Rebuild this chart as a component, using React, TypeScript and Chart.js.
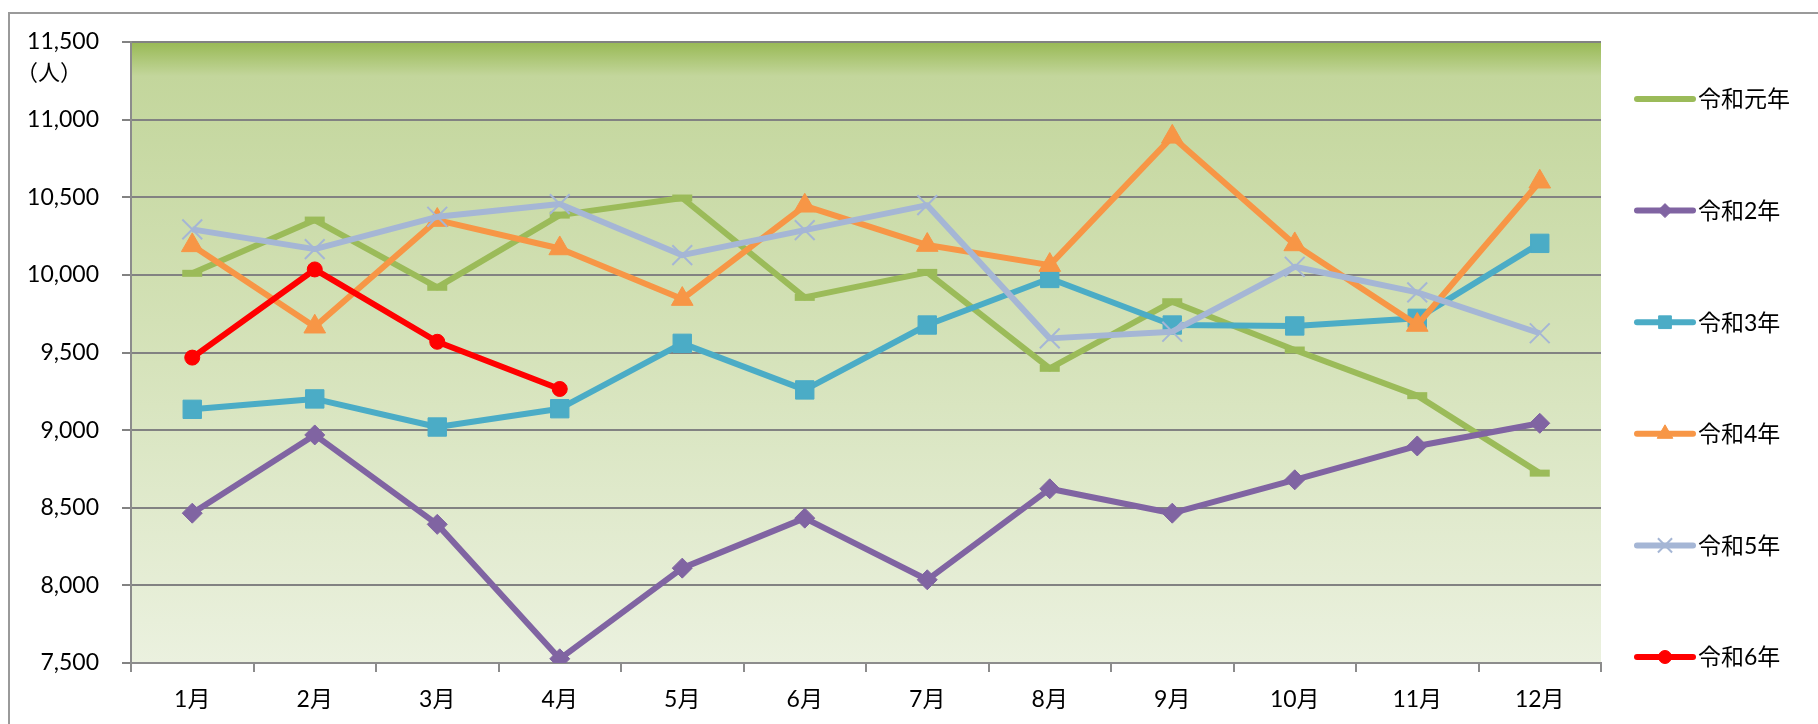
import React, { useEffect, useRef } from 'react';
import { Chart, registerables } from 'chart.js';
import { drawPoint } from 'chart.js/helpers';

Chart.register(...registerables);

const months = ['1月', '2月', '3月', '4月', '5月', '6月', '7月', '8月', '9月', '10月', '11月', '12月'];
const seriesNames = ['令和元年', '令和2年', '令和3年', '令和4年', '令和5年', '令和6年'];
const reiwa1 = [10010, 10353, 9920, 10385, 10495, 9855, 10016, 9398, 9827, 9516, 9222, 8723];
const reiwa2 = [8465, 8969, 8393, 7527, 8111, 8433, 8036, 8622, 8465, 8680, 8898, 9044];
const reiwa3 = [9134, 9201, 9020, 9138, 9559, 9259, 9677, 9977, 9677, 9671, 9720, 10203];
const reiwa4 = [10190, 9666, 10353, 10170, 9844, 10445, 10192, 10063, 10889, 10196, 9677, 10600];
const reiwa5 = [10293, 10166, 10374, 10456, 10127, 10288, 10449, 9591, 9634, 10052, 9887, 9624];
const reiwa6 = [9467, 10035, 9569, 9265];
const yMin = 7500;
const yMax = 11500;
const yStep = 500;
const unitLabel = '（人）';

const FONT = "Lato, 'Noto Sans CJK JP', sans-serif";

const styles = [
  { color: '#9BBB59', pointStyle: 'line', radius: 10, borderWidth: 7, lRadius: 0, lBorder: 0 },
  { color: '#8064A2', pointStyle: 'rectRot', radius: 10, borderWidth: 1, lRadius: 7, lBorder: 1 },
  { color: '#4BACC6', pointStyle: 'rect', radius: 13, borderWidth: 1, lRadius: 9, lBorder: 1 },
  { color: '#F79646', pointStyle: 'triangle', radius: 12.5, borderWidth: 1, lRadius: 9, lBorder: 1 },
  { color: '#A5B6D5', pointStyle: 'crossRot', radius: 14, borderWidth: 2, lRadius: 10, lBorder: 2 },
  { color: '#FF0000', pointStyle: 'circle', radius: 7.5, borderWidth: 1, lRadius: 6.5, lBorder: 1 },
];

const bgPlugin = {
  id: 'plotBg',
  beforeDraw(chart: any) {
    const { ctx, chartArea } = chart;
    if (!chartArea) return;
    const g = ctx.createLinearGradient(0, chartArea.top, 0, chartArea.bottom);
    g.addColorStop(0, '#98B954');
    g.addColorStop(0.055, '#C3D69C');
    g.addColorStop(0.45, '#D3E1B6');
    g.addColorStop(1, '#EBF1DF');
    ctx.save();
    ctx.fillStyle = g;
    ctx.fillRect(chartArea.left, chartArea.top, chartArea.right - chartArea.left, chartArea.bottom - chartArea.top);
    ctx.restore();
  },
};

const legendPlugin = {
  id: 'sideLegend',
  afterDraw(chart: any) {
    const { ctx, chartArea } = chart;
    const x0 = chartArea.right + 36;
    const x1 = x0 + 56;
    const top = 99;
    const gap = 111.6;
    ctx.save();
    chart.data.datasets.forEach((ds: any, i: number) => {
      const st = styles[i];
      const y = top + i * gap;
      ctx.strokeStyle = st.color;
      ctx.lineWidth = 6;
      ctx.lineCap = 'round';
      ctx.beginPath();
      ctx.moveTo(x0, y);
      ctx.lineTo(x1, y);
      ctx.stroke();
      if (st.lRadius > 0) {
        ctx.fillStyle = st.color;
        ctx.strokeStyle = st.color;
        ctx.lineWidth = st.lBorder;
        ctx.lineCap = 'butt';
        drawPoint(ctx, { pointStyle: st.pointStyle as any, radius: st.lRadius, borderWidth: st.lBorder, rotation: 0 } as any, (x0 + x1) / 2, y);
      }
      ctx.fillStyle = '#000';
      ctx.font = `23px ${FONT}`;
      ctx.textAlign = 'left';
      ctx.textBaseline = 'middle';
      ctx.fillText(ds.label, x1 + 5, y + 1);
    });
    ctx.font = `22px ${FONT}`;
    ctx.textAlign = 'center';
    ctx.textBaseline = 'middle';
    ctx.fillStyle = '#000';
    ctx.fillText(unitLabel, 49, chartArea.top + 31);
    ctx.restore();
  },
};

export default function App() {
  const ref = useRef<HTMLCanvasElement | null>(null);
  useEffect(() => {
    if (!ref.current) return;
    const allSeries = [reiwa1, reiwa2, reiwa3, reiwa4, reiwa5, reiwa6];
    const datasets = allSeries.map((d, i) => {
      const st = styles[i];
      return {
        label: seriesNames[i],
        data: d,
        borderColor: st.color,
        backgroundColor: st.color,
        borderWidth: 6,
        borderJoinStyle: 'round' as const,
        tension: 0,
        pointStyle: st.pointStyle as any,
        pointRadius: st.radius,
        pointHoverRadius: st.radius,
        pointBorderWidth: st.borderWidth,
        pointBackgroundColor: st.color,
        pointBorderColor: st.color,
        order: 5 - i,
        fill: false,
      };
    });
    const chart = new Chart(ref.current, {
      type: 'line',
      data: { labels: months, datasets },
      plugins: [bgPlugin, legendPlugin],
      options: {
        responsive: false,
        animation: false,
        devicePixelRatio: 1,
        layout: { padding: { left: 0, top: 42, right: 217, bottom: 0 } },
        font: { family: FONT },
        plugins: { legend: { display: false }, tooltip: { enabled: false } },
        scales: {
          x: {
            offset: true,
            grid: { offset: true, drawOnChartArea: false, drawTicks: true, tickLength: 9, color: '#8C8C8C', lineWidth: 2 },
            border: { display: true, color: '#8C8C8C', width: 2 },
            ticks: { color: '#000', font: { size: 23, family: FONT }, padding: 14, maxRotation: 0 },
            afterFit: (s: any) => { s.height = 61; },
          },
          y: {
            min: yMin,
            max: yMax,
            grid: { color: '#828282', lineWidth: 2, tickLength: 9, drawTicks: true },
            border: { display: true, color: '#8C8C8C', width: 2 },
            ticks: {
              stepSize: yStep,
              color: '#000',
              font: { size: 23, family: FONT },
              padding: 23,
              callback: (v: any) => Number(v).toLocaleString('en-US'),
            },
            afterFit: (s: any) => { s.width = 131; },
          },
        },
      } as any,
    });
    return () => chart.destroy();
  }, []);
  return (
    <div style={{ position: 'fixed', left: 0, top: 0, width: '100vw', height: '100vh', overflow: 'hidden', background: '#fff' }}>
      <div style={{ position: 'absolute', left: 8, top: 12, width: 2000, height: 1000, border: '2px solid #9A9A9A', boxSizing: 'border-box' }} />
      <canvas ref={ref} width={1818} height={724} style={{ position: 'absolute', left: 0, top: 0, width: 1818, height: 724 }} />
    </div>
  );
}
